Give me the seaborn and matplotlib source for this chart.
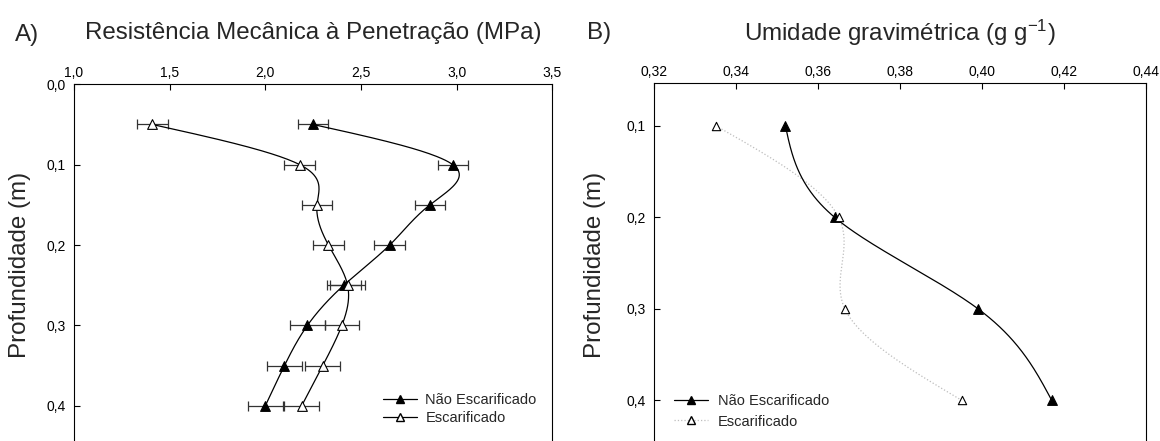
import numpy as np
import matplotlib
matplotlib.use("Agg")
import matplotlib.pyplot as plt
from matplotlib.lines import Line2D
import seaborn as sns

# --- Panel A: penetration resistance (MPa) by depth ---
depth_rmp = [0.05, 0.10, 0.15, 0.20, 0.25, 0.30, 0.35, 0.40]
rmp_nao = [2.25, 2.98, 2.86, 2.65, 2.41, 2.22, 2.10, 2.00]
rmp_nao_err = [0.08, 0.08, 0.08, 0.08, 0.09, 0.09, 0.09, 0.09]
rmp_esc = [1.41, 2.18, 2.27, 2.33, 2.43, 2.40, 2.30, 2.19]
rmp_esc_err = [0.08, 0.08, 0.08, 0.08, 0.09, 0.09, 0.09, 0.09]

# --- Panel B: gravimetric moisture (g g-1) by depth ---
depth_ug = [0.1, 0.2, 0.3, 0.4]
ug_nao = [0.352, 0.364, 0.399, 0.417]
ug_esc = [0.335, 0.365, 0.3665, 0.395]

series_labels = ["Não Escarificado", "Escarificado"]

rmp_xticks = [1.0, 1.5, 2.0, 2.5, 3.0, 3.5]
rmp_xticklabels = ["1,0", "1,5", "2,0", "2,5", "3,0", "3,5"]
rmp_yticks = [0.0, 0.1, 0.2, 0.3, 0.4]
rmp_yticklabels = ["0,0", "0,1", "0,2", "0,3", "0,4"]
ug_xticks = [0.32, 0.34, 0.36, 0.38, 0.40, 0.42, 0.44]
ug_xticklabels = ["0,32", "0,34", "0,36", "0,38", "0,40", "0,42", "0,44"]
ug_yticks = [0.1, 0.2, 0.3, 0.4]
ug_yticklabels = ["0,1", "0,2", "0,3", "0,4"]


def natural_spline(t, v, n=300):
    """Natural cubic spline of v as a function of t (for the smooth curves)."""
    t = np.asarray(t, float)
    v = np.asarray(v, float)
    k = len(t)
    h = np.diff(t)
    A = np.zeros((k, k))
    r = np.zeros(k)
    A[0, 0] = A[-1, -1] = 1.0
    for i in range(1, k - 1):
        A[i, i - 1] = h[i - 1]
        A[i, i] = 2 * (h[i - 1] + h[i])
        A[i, i + 1] = h[i]
        r[i] = 6 * ((v[i + 1] - v[i]) / h[i] - (v[i] - v[i - 1]) / h[i - 1])
    M = np.linalg.solve(A, r)
    tt = np.linspace(t[0], t[-1], n)
    idx = np.clip(np.searchsorted(t, tt) - 1, 0, k - 2)
    t0, t1 = t[idx], t[idx + 1]
    hh = t1 - t0
    a = (t1 - tt) / hh
    b = (tt - t0) / hh
    vv = a * v[idx] + b * v[idx + 1] + ((a ** 3 - a) * M[idx] + (b ** 3 - b) * M[idx + 1]) * hh ** 2 / 6
    return tt, vv


sns.set_theme(style="white")
plt.rcParams["font.family"] = ["Liberation Sans", "DejaVu Sans"]
plt.rcParams["mathtext.default"] = "regular"

W, H = 1160, 441
fig = plt.figure(figsize=(W / 100, H / 100), dpi=100)
fig.patch.set_facecolor("white")

ax1 = fig.add_axes([74 / W, -5 / H, (552.3 - 74) / W, (446 - 84.3) / H])
ax2 = fig.add_axes([654.3 / W, -5 / H, (1145.9 - 654.3) / W, (446 - 83.3) / H])

TITLE_FS = 17.4
TICK_FS = 10
LEG_FS = 10.5
MS = 7

# ---------- Panel A ----------
for xs, err in ((rmp_nao, rmp_nao_err), (rmp_esc, rmp_esc_err)):
    ax1.errorbar(xs, depth_rmp, xerr=err, fmt="none", ecolor="#333333",
                 elinewidth=0.9, capsize=3.3, capthick=0.9, zorder=2)
for xs in (rmp_nao, rmp_esc):
    tt, vv = natural_spline(depth_rmp, xs)
    sns.lineplot(x=vv, y=tt, sort=False, estimator=None, color="black",
                 linewidth=0.9, ax=ax1, zorder=3)
sns.scatterplot(x=rmp_nao, y=depth_rmp, marker="^", s=MS ** 2, color="black",
                edgecolor="black", linewidth=0.8, ax=ax1, zorder=4)
sns.scatterplot(x=rmp_esc, y=depth_rmp, marker="^", s=MS ** 2, color="white",
                edgecolor="black", linewidth=0.8, ax=ax1, zorder=4)

ax1.set_xlim(1.0, 3.5)
ax1.set_ylim(0.45, 0.0)
ax1.set_xticks(rmp_xticks)
ax1.set_xticklabels(rmp_xticklabels)
ax1.set_yticks(rmp_yticks)
ax1.set_yticklabels(rmp_yticklabels)

# ---------- Panel B ----------
tt, vv = natural_spline(depth_ug, ug_nao)
sns.lineplot(x=vv, y=tt, sort=False, estimator=None, color="black",
             linewidth=0.9, ax=ax2, zorder=3)
tt, vv = natural_spline(depth_ug, ug_esc)
sns.lineplot(x=vv, y=tt, sort=False, estimator=None, color="#bdbdbd",
             linewidth=0.9, linestyle=":", ax=ax2, zorder=2)
sns.scatterplot(x=ug_nao, y=depth_ug, marker="^", s=MS ** 2, color="black",
                edgecolor="black", linewidth=0.8, ax=ax2, zorder=4)
sns.scatterplot(x=ug_esc, y=depth_ug, marker="^", s=6 ** 2, color="white",
                edgecolor="black", linewidth=0.8, ax=ax2, zorder=4)

ax2.set_xlim(0.32, 0.44)
ax2.set_ylim(0.45, 0.0536)
ax2.set_xticks(ug_xticks)
ax2.set_xticklabels(ug_xticklabels)
ax2.set_yticks(ug_yticks)
ax2.set_yticklabels(ug_yticklabels)

# ---------- shared styling ----------
for ax in (ax1, ax2):
    ax.set_facecolor("white")
    ax.xaxis.tick_top()
    ax.xaxis.set_label_position("top")
    ax.tick_params(axis="x", which="both", top=True, bottom=False, direction="in",
                   length=4, width=0.8, pad=3, labelsize=TICK_FS, colors="black")
    ax.tick_params(axis="y", which="both", left=True, right=False, direction="in",
                   length=4, width=0.8, pad=6, labelsize=TICK_FS, colors="black")
    for sp in ax.spines.values():
        sp.set_visible(True)
        sp.set_color("black")
        sp.set_linewidth(0.8)
    ax.grid(False)

ax1.set_xlabel("Resistência Mecânica à Penetração (MPa)", fontsize=TITLE_FS, va="center")
ax1.xaxis.set_label_coords(0.5, (446 - 33) / 361.7)
ax2.set_xlabel("Umidade gravimétrica (g g$^{-1}$)", fontsize=TITLE_FS, va="center")
ax2.xaxis.set_label_coords(0.5, (446 - 33) / 362.7)

ax1.set_ylabel("Profundidade (m)", fontsize=TITLE_FS, va="center")
ax1.yaxis.set_label_coords((20 - 74) / 478.3, (446 - 265) / 361.7)
ax2.set_ylabel("Profundidade (m)", fontsize=TITLE_FS, va="center")
ax2.yaxis.set_label_coords((595 - 654.3) / 491.6, (446 - 265) / 362.7)

ax1.text((15 - 74) / 478.3, (446 - 35) / 361.7, "A)", transform=ax1.transAxes,
         ha="left", va="center", fontsize=TITLE_FS)
ax2.text((587 - 654.3) / 491.6, (446 - 33) / 362.7, "B)", transform=ax2.transAxes,
         ha="left", va="center", fontsize=TITLE_FS)

# ---------- legends ----------
h_nao = Line2D([], [], color="black", lw=0.9, marker="^", markersize=6,
               markerfacecolor="black", markeredgecolor="black")
h_esc = Line2D([], [], color="black", lw=0.9, marker="^", markersize=6,
               markerfacecolor="white", markeredgecolor="black")
ax1.legend([h_nao, h_esc], series_labels, loc="upper left",
           bbox_to_anchor=((383 - 74) / 478.3, (446 - 393) / 361.7),
           frameon=False, fontsize=LEG_FS, borderpad=0, borderaxespad=0,
           handlelength=2.3, handletextpad=0.6, labelspacing=0.25)

h_nao2 = Line2D([], [], color="black", lw=0.9, marker="^", markersize=6,
                markerfacecolor="black", markeredgecolor="black")
h_esc2 = Line2D([], [], color="#bdbdbd", lw=0.9, linestyle=":", marker="^",
                markersize=5.5, markerfacecolor="white", markeredgecolor="black")
ax2.legend([h_nao2, h_esc2], series_labels, loc="upper left",
           bbox_to_anchor=((674.4 - 654.3) / 491.6, (446 - 394) / 362.7),
           frameon=False, fontsize=LEG_FS, borderpad=0, borderaxespad=0,
           handlelength=2.3, handletextpad=0.7, labelspacing=0.45)

fig.savefig("out.png", dpi=100, facecolor="white")
